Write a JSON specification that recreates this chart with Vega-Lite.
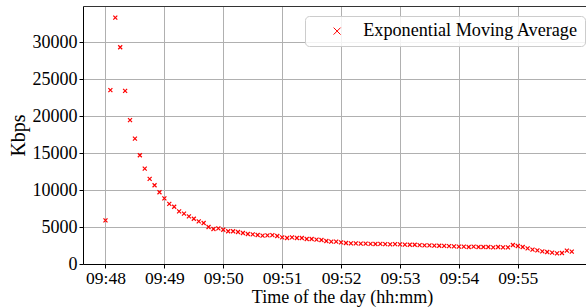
{
  "$schema": "https://vega.github.io/schema/vega-lite/v6.json",
  "width": 503,
  "height": 258,
  "autosize": {"type": "none"},
  "padding": {"left": 83, "top": 6, "right": 0, "bottom": 43},
  "background": "white",
  "config": {
    "view": {"stroke": null},
    "font": "Liberation Serif",
    "axis": {
      "labelFont": "Liberation Serif",
      "titleFont": "Liberation Serif",
      "labelFontSize": 18,
      "titleFontSize": 20,
      "titleFontWeight": "normal",
      "labelColor": "black",
      "titleColor": "black",
      "tickColor": "black",
      "domainColor": "black",
      "gridColor": "#b0b0b0",
      "gridWidth": 1,
      "tickSize": 4,
      "domainWidth": 1,
      "tickWidth": 1
    }
  },
  "data": {
    "values": [
      {"t": "2024-01-01T09:48:00", "v": 5900},
      {"t": "2024-01-01T09:48:05", "v": 23500},
      {"t": "2024-01-01T09:48:10", "v": 33300},
      {"t": "2024-01-01T09:48:15", "v": 29300},
      {"t": "2024-01-01T09:48:20", "v": 23400},
      {"t": "2024-01-01T09:48:25", "v": 19450},
      {"t": "2024-01-01T09:48:30", "v": 16950},
      {"t": "2024-01-01T09:48:35", "v": 14700},
      {"t": "2024-01-01T09:48:40", "v": 12900},
      {"t": "2024-01-01T09:48:45", "v": 11500},
      {"t": "2024-01-01T09:48:50", "v": 10650},
      {"t": "2024-01-01T09:48:55", "v": 9700},
      {"t": "2024-01-01T09:49:00", "v": 8870},
      {"t": "2024-01-01T09:49:05", "v": 8130},
      {"t": "2024-01-01T09:49:10", "v": 7740},
      {"t": "2024-01-01T09:49:15", "v": 7120},
      {"t": "2024-01-01T09:49:20", "v": 6800},
      {"t": "2024-01-01T09:49:25", "v": 6440},
      {"t": "2024-01-01T09:49:30", "v": 6120},
      {"t": "2024-01-01T09:49:35", "v": 5770},
      {"t": "2024-01-01T09:49:40", "v": 5540},
      {"t": "2024-01-01T09:49:45", "v": 5000},
      {"t": "2024-01-01T09:49:50", "v": 4730},
      {"t": "2024-01-01T09:49:55", "v": 4820},
      {"t": "2024-01-01T09:50:00", "v": 4630},
      {"t": "2024-01-01T09:50:05", "v": 4420},
      {"t": "2024-01-01T09:50:10", "v": 4420},
      {"t": "2024-01-01T09:50:15", "v": 4320},
      {"t": "2024-01-01T09:50:20", "v": 4190},
      {"t": "2024-01-01T09:50:25", "v": 4050},
      {"t": "2024-01-01T09:50:30", "v": 4010},
      {"t": "2024-01-01T09:50:35", "v": 3920},
      {"t": "2024-01-01T09:50:40", "v": 3830},
      {"t": "2024-01-01T09:50:45", "v": 3870},
      {"t": "2024-01-01T09:50:50", "v": 3900},
      {"t": "2024-01-01T09:50:55", "v": 3780},
      {"t": "2024-01-01T09:51:00", "v": 3600},
      {"t": "2024-01-01T09:51:05", "v": 3510},
      {"t": "2024-01-01T09:51:10", "v": 3600},
      {"t": "2024-01-01T09:51:15", "v": 3510},
      {"t": "2024-01-01T09:51:20", "v": 3510},
      {"t": "2024-01-01T09:51:25", "v": 3380},
      {"t": "2024-01-01T09:51:30", "v": 3380},
      {"t": "2024-01-01T09:51:35", "v": 3290},
      {"t": "2024-01-01T09:51:40", "v": 3240},
      {"t": "2024-01-01T09:51:45", "v": 3110},
      {"t": "2024-01-01T09:51:50", "v": 3020},
      {"t": "2024-01-01T09:51:55", "v": 3020},
      {"t": "2024-01-01T09:52:00", "v": 2930},
      {"t": "2024-01-01T09:52:05", "v": 2840},
      {"t": "2024-01-01T09:52:10", "v": 2790},
      {"t": "2024-01-01T09:52:15", "v": 2790},
      {"t": "2024-01-01T09:52:20", "v": 2750},
      {"t": "2024-01-01T09:52:25", "v": 2750},
      {"t": "2024-01-01T09:52:30", "v": 2720},
      {"t": "2024-01-01T09:52:35", "v": 2700},
      {"t": "2024-01-01T09:52:40", "v": 2720},
      {"t": "2024-01-01T09:52:45", "v": 2680},
      {"t": "2024-01-01T09:52:50", "v": 2660},
      {"t": "2024-01-01T09:52:55", "v": 2680},
      {"t": "2024-01-01T09:53:00", "v": 2650},
      {"t": "2024-01-01T09:53:05", "v": 2620},
      {"t": "2024-01-01T09:53:10", "v": 2600},
      {"t": "2024-01-01T09:53:15", "v": 2600},
      {"t": "2024-01-01T09:53:20", "v": 2560},
      {"t": "2024-01-01T09:53:25", "v": 2520},
      {"t": "2024-01-01T09:53:30", "v": 2520},
      {"t": "2024-01-01T09:53:35", "v": 2480},
      {"t": "2024-01-01T09:53:40", "v": 2470},
      {"t": "2024-01-01T09:53:45", "v": 2440},
      {"t": "2024-01-01T09:53:50", "v": 2420},
      {"t": "2024-01-01T09:53:55", "v": 2380},
      {"t": "2024-01-01T09:54:00", "v": 2340},
      {"t": "2024-01-01T09:54:05", "v": 2340},
      {"t": "2024-01-01T09:54:10", "v": 2300},
      {"t": "2024-01-01T09:54:15", "v": 2340},
      {"t": "2024-01-01T09:54:20", "v": 2300},
      {"t": "2024-01-01T09:54:25", "v": 2300},
      {"t": "2024-01-01T09:54:30", "v": 2300},
      {"t": "2024-01-01T09:54:35", "v": 2250},
      {"t": "2024-01-01T09:54:40", "v": 2300},
      {"t": "2024-01-01T09:54:45", "v": 2250},
      {"t": "2024-01-01T09:54:50", "v": 2250},
      {"t": "2024-01-01T09:54:55", "v": 2570},
      {"t": "2024-01-01T09:55:00", "v": 2430},
      {"t": "2024-01-01T09:55:05", "v": 2300},
      {"t": "2024-01-01T09:55:10", "v": 2120},
      {"t": "2024-01-01T09:55:15", "v": 1940},
      {"t": "2024-01-01T09:55:20", "v": 1850},
      {"t": "2024-01-01T09:55:25", "v": 1710},
      {"t": "2024-01-01T09:55:30", "v": 1620},
      {"t": "2024-01-01T09:55:35", "v": 1530},
      {"t": "2024-01-01T09:55:40", "v": 1440},
      {"t": "2024-01-01T09:55:45", "v": 1490},
      {"t": "2024-01-01T09:55:50", "v": 1800},
      {"t": "2024-01-01T09:55:55", "v": 1670}
    ]
  },
  "layer": [
    {
      "mark": {"type": "point", "shape": "M-1,-1L1,1M1,-1L-1,1", "filled": false, "size": 16, "strokeWidth": 1.2, "opacity": 1},
      "encoding": {
        "x": {
          "field": "t",
          "type": "temporal",
          "scale": {"domain": [
            {"year": 2024, "month": 1, "date": 1, "hours": 9, "minutes": 47, "seconds": 37, "milliseconds": 100},
            {"year": 2024, "month": 1, "date": 1, "hours": 9, "minutes": 56, "seconds": 9, "milliseconds": 500}
          ]},
          "axis": {
            "values": [
              {"year": 2024, "month": 1, "date": 1, "hours": 9, "minutes": 48},
              {"year": 2024, "month": 1, "date": 1, "hours": 9, "minutes": 49},
              {"year": 2024, "month": 1, "date": 1, "hours": 9, "minutes": 50},
              {"year": 2024, "month": 1, "date": 1, "hours": 9, "minutes": 51},
              {"year": 2024, "month": 1, "date": 1, "hours": 9, "minutes": 52},
              {"year": 2024, "month": 1, "date": 1, "hours": 9, "minutes": 53},
              {"year": 2024, "month": 1, "date": 1, "hours": 9, "minutes": 54},
              {"year": 2024, "month": 1, "date": 1, "hours": 9, "minutes": 55}
            ],
            "format": "%H:%M",
            "labelFontSize": 17.5,
            "labelPadding": 1,
            "labelFlush": false,
            "title": "Time of the day (hh:mm)",
            "titleFontSize": 18,
            "titlePadding": 2,
            "titleX": 259
          }
        },
        "y": {
          "field": "v",
          "type": "quantitative",
          "scale": {"domain": [0, 34870], "nice": false, "zero": true},
          "axis": {
            "values": [0, 5000, 10000, 15000, 20000, 25000, 30000],
            "format": "d",
            "labelPadding": 2,
            "title": "Kbps",
            "titlePadding": 4
          }
        },
        "color": {
          "datum": "Exponential Moving Average",
          "type": "nominal",
          "scale": {"range": ["#ff0000"]},
          "legend": {
            "title": null,
            "orient": "none",
            "legendX": 222,
            "legendY": 10,
            "padding": 6,
            "strokeColor": "#cccccc",
            "cornerRadius": 4,
            "fillColor": "rgba(255,255,255,0.85)",
            "labelFont": "Liberation Serif",
            "labelFontSize": 18.2,
            "labelColor": "black",
            "labelLimit": 0,
            "symbolType": "M-1,-1L1,1M1,-1L-1,1",
            "symbolSize": 49,
            "symbolStrokeWidth": 1,
            "symbolOffset": 17,
            "labelOffset": 17
          }
        }
      }
    },
    {
      "mark": {"type": "point", "opacity": 0},
      "encoding": {
        "x": {
          "field": "t",
          "type": "temporal",
          "axis": {"orient": "top", "labels": false, "ticks": false, "grid": false, "domain": true, "domainColor": "#333333", "title": null}
        },
        "y": {"field": "v", "type": "quantitative", "axis": null}
      }
    }
  ],
  "resolve": {"axis": {"x": "independent", "y": "independent"}}
}
